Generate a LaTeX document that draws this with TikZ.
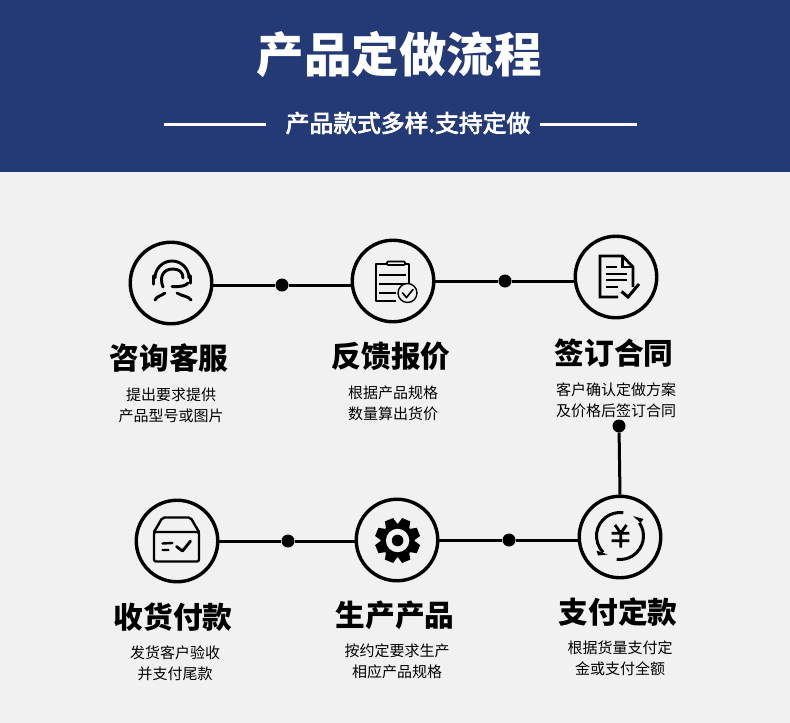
\documentclass[tikz,border=0pt]{standalone}
\usepackage{fontspec}
\setmainfont{Noto Sans CJK SC}
\newfontfamily\cjkmed[FakeBold=3]{Noto Sans CJK SC}
\usetikzlibrary{positioning}
\definecolor{headblue}{HTML}{243A76}
\definecolor{pagegray}{HTML}{F1F1F1}
\newcommand{\fs}[1]{\fontsize{#1}{#1}\selectfont}

\begin{document}
\begin{tikzpicture}[x=1pt,y=1pt,yscale=-1,
  ring/.style={draw=black, line width=3.4pt, circle, minimum size=81.5pt, inner sep=0pt, fill=pagegray},
  dot/.style={circle, fill=black, minimum size=13pt, inner sep=0pt},
  wire/.style={line width=3pt, black},
  ttl/.style={font=\fs{47.5}\bfseries, text=white},
  sub/.style={font=\cjkmed\fs{23.8}, text=white},
  hdg/.style={font=\fs{29.7}\bfseries, text=black},
  txt/.style={font=\fs{15}, text=black},
  ico/.style={line width=2.4pt, black, line cap=round, line join=round},
  hed/.style={line width=2.9pt, black, line cap=round, line join=round}]
\useasboundingbox (0,0) rectangle (790,723);
\fill[pagegray] (0,0) rectangle (790,723);
\fill[headblue] (0,0) rectangle (790,172);
% header
\node[ttl] (title) at (399,54) {产品定做流程};
\node[sub] (subtitle) at (408,123) {产品款式多样.支持定做};
\coordinate (subl) at (164,124);
\coordinate (subr) at (637,124);
\draw[wire, white] (subl) -- (266,124);
\draw[wire, white] (540,124) -- (subr);
% circles
\node[ring] (kefu) at (171,283) {};
\node[ring] (baojia) at (393,281) {};
\node[ring] (hetong) at (616,277) {};
\node[ring] (shouhuo) at (177,541) {};
\node[ring] (shengchan) at (397,540) {};
\node[ring] (zhifu) at (620,537) {};
% dots
\node[dot] (d1) at (282,285) {};
\node[dot] (d2) at (505,281) {};
\node[dot] (d3) at (619,426) {};
\node[dot] (d4) at (509,540) {};
\node[dot] (d5) at (288,541) {};
% connectors
\draw[wire] (kefu.east |- d1) -- (d1); \draw[wire] (d1) -- (baojia.west |- d1);
\draw[wire] (baojia.east |- d2) -- (d2); \draw[wire] (d2) -- (hetong.west |- d2);
\draw[wire] (d3) -- (zhifu.north);
\draw[wire] (zhifu.west |- d4) -- (d4); \draw[wire] (d4) -- (shengchan.east |- d4);
\draw[wire] (shengchan.west |- d5) -- (d5); \draw[wire] (d5) -- (shouhuo.east |- d5);
% labels, top row
\node[hdg] (h1) at (169,358) {咨询客服};
\node[txt] (t1a) at (171,395) {提出要求提供};
\node[txt] (t1b) at (171,416) {产品型号或图片};
\node[hdg] (h2) at (391,356) {反馈报价};
\node[txt] (t2a) at (393,393) {根据产品规格};
\node[txt] (t2b) at (393,414) {数量算出货价};
\node[hdg] (h3) at (614,353) {签订合同};
\node[txt] (t3a) at (616,390) {客户确认定做方案};
\node[txt] (t3b) at (616,411) {及价格后签订合同};
% labels, bottom row
\node[hdg] (h4) at (173,617) {收货付款};
\node[txt] (t4a) at (175,653) {发货客户验收};
\node[txt] (t4b) at (175,674) {并支付尾款};
\node[hdg] (h5) at (395,615) {生产产品};
\node[txt] (t5a) at (397,651) {按约定要求生产};
\node[txt] (t5b) at (397,672) {相应产品规格};
\node[hdg] (h6) at (618,612) {支付定款};
\node[txt] (t6a) at (620,648) {根据货量支付定};
\node[txt] (t6b) at (620,669) {金或支付全额};
% icon: headset
\draw[hed] (155,278) arc[start angle=-180, end angle=0, radius=17];
\draw[hed, line width=3.4pt] (153.5,276) -- (153.5,284) (190.5,276) -- (190.5,283);
\draw[hed] (163,287) .. controls (159,277) and (163,269) .. (173,269) .. controls (179,269) and (183,272) .. (183,278);
\draw[hed] (188,283) .. controls (186,286) and (180,287) .. (172,286.5);
\draw[hed] (155,300) .. controls (157,296) and (161,296) .. (165,293);
\draw[hed] (191,300) .. controls (189,296) and (181,296) .. (177,293);
% icon: clipboard
\draw[line width=1.6pt, line join=round] (396,301) -- (376,301) -- (376,264) -- (409,264) -- (409,283);
\draw[line width=1.6pt, fill=pagegray, rounded corners=1pt] (387,261.5) rectangle (405,265);
\draw[line width=1.6pt] (379,275) -- (406,275) (379,284) -- (406,284) (379,293) -- (396,293);
\draw[line width=1.4pt, fill=pagegray] (407.5,293) circle (9.5);
\draw[line width=1.6pt, line cap=round] (402.5,293) -- (406.5,297.5) -- (413,289.5);
% icon: document
\draw[line width=2.8pt, line join=miter] (633,287) -- (633,267) -- (622.5,256) -- (600,256) -- (600,297) -- (618,297);
\draw[line width=2.2pt] (622.5,256) -- (622.5,267) -- (633,267);
\draw[line width=2.8pt] (606,267) -- (617,267) (606,274) -- (627,274) (606,280) -- (627,280) (606,287) -- (618,287);
\draw[line width=3pt] (621.5,291.5) -- (628,297) -- (639,284);
% icon: box
\draw[ico, rounded corners=2pt] (154,532) rectangle (199,561.5);
\draw[ico, rounded corners=2pt] (154,532) -- (162.5,517.5) -- (190.5,517.5) -- (199,532);
\draw[ico] (162.5,543.5) -- (172.5,543) (162.5,550) -- (168.5,550);
\draw[ico, line width=2.8pt] (176.5,546.5) -- (182.5,551) -- (190.5,541);
% icon: gear
\fill[black] (397.6,540.5) circle (17);
\foreach \a in {0,45,...,315}{
  \fill[black, rotate around={\a+22.5:(397.6,540.5)}] (391,527) -- (393.2,518) -- (402,518) -- (404.2,527) -- cycle;
}
\fill[pagegray] (397.6,540.5) circle (11.7);
\fill[black] (397.6,540.5) circle (5.8);
% icon: yen
\draw[line width=3pt] ([shift={(-82:23.5)}]620,536) arc[start angle=-82, end angle=-224, radius=23.5];
\fill[black] (596.5,550.5) -- (607.5,554.5) -- (598,555.5) -- cycle;
\draw[line width=3pt] ([shift={(-34:23.5)}]620,536) arc[start angle=-34, end angle=98, radius=23.5];
\fill[black] (633,516) -- (643.5,519) -- (640.5,523) -- cycle;
\draw[line width=2.8pt] (615,525) -- (620.7,533) -- (626.5,525) (611.7,533.3) -- (629.3,533.3) (611.7,540.7) -- (629.3,540.7) (620.7,533) -- (620.7,547.5);
\end{tikzpicture}
\end{document}
